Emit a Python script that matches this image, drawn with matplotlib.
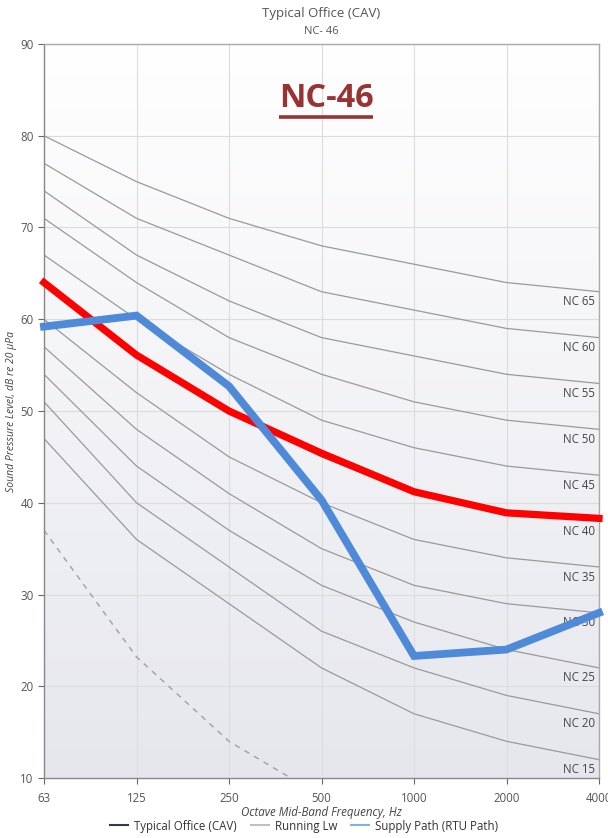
import numpy as np
import matplotlib
matplotlib.use("Agg")
import matplotlib.pyplot as plt
from matplotlib.lines import Line2D

plt.rcParams['font.family'] = ['Open Sans', 'DejaVu Sans']

freqs = ["63", "125", "250", "500", "1000", "2000", "4000"]
nc_levels = [15, 20, 25, 30, 35, 40, 45, 50, 55, 60, 65]
nc_curves = {
    15: [47, 36, 29, 22, 17, 14, 12],
    20: [51, 40, 33, 26, 22, 19, 17],
    25: [54, 44, 37, 31, 27, 24, 22],
    30: [57, 48, 41, 35, 31, 29, 28],
    35: [60, 52, 45, 40, 36, 34, 33],
    40: [64, 56, 50, 45, 41, 39, 38],
    45: [67, 60, 54, 49, 46, 44, 43],
    50: [71, 64, 58, 54, 51, 49, 48],
    55: [74, 67, 62, 58, 56, 54, 53],
    60: [77, 71, 67, 63, 61, 59, 58],
    65: [80, 75, 71, 68, 66, 64, 63],
}
typical_office = [64, 56.1, 50, 45.4, 41.2, 38.9, 38.3]
supply_path = [59.2, 60.4, 52.7, 40.3, 23.3, 24.0, 28.0]
running_lw = [37, 23.2, 14, 8]
y_ticks = [10, 20, 30, 40, 50, 60, 70, 80, 90]

fig = plt.figure(figsize=(6.08, 8.38), dpi=100)
ax = fig.add_axes([44/608, 1-778/838, (599-44)/608, (778-44)/838])

x = np.arange(len(freqs))
ax.set_xlim(0, len(freqs)-1)
ax.set_ylim(10, 90)

# gradient background
grad = np.linspace(0, 1, 256).reshape(-1, 1)
top = np.array([1.0, 1.0, 1.0])
bot = np.array([230, 231, 237]) / 255
img = top[None, None, :] * (1 - grad[:, :, None]) + bot[None, None, :] * grad[:, :, None]
ax.imshow(img, extent=[0, 1, 0, 1], transform=ax.transAxes, aspect='auto', zorder=0)

for xi in x:
    ax.axvline(xi, color='#dcdcdc', lw=0.8, zorder=1)
for yt in y_ticks:
    ax.axhline(yt, color='#dcdcdc', lw=0.8, zorder=1)

for lvl in nc_levels:
    ax.plot(x, nc_curves[lvl], color='#9a9a9a', lw=0.9, zorder=2)
    ax.text(len(freqs)-1-0.04, nc_curves[lvl][-1]-1.1, f"NC {lvl}", ha='right', va='center',
            fontsize=8.3, color='#444444', zorder=3)

ax.plot(x[:len(running_lw)], running_lw, color='#a0a0a0', lw=1.0, ls=(0, (4, 4)), zorder=2)
ax.plot(x, typical_office, color='#ff0000', lw=5.2, zorder=4, clip_on=False, solid_joinstyle='miter')
ax.plot(x, supply_path, color='#4f8ad8', lw=5.6, zorder=5, clip_on=False, solid_joinstyle='miter')

ax.set_xticks(x)
ax.set_xticklabels(freqs)
ax.set_yticks(y_ticks)
ax.tick_params(axis='both', colors='#666666', labelcolor='#555555', labelsize=8.3, length=4, width=0.8)
ax.tick_params(axis='x', pad=6)
for s in ax.spines.values():
    s.set_color('#aaaaaa')
    s.set_linewidth(1.0)
ax.spines['left'].set_color('#888888')
ax.spines['bottom'].set_color('#888888')

ax.set_xlabel("Octave Mid-Band Frequency, Hz", fontsize=8.3, style='italic', color='#444444', labelpad=1)
ax.set_ylabel("Sound Pressure Level, dB re 20 µPa", fontsize=7.5, style='italic', color='#444444', labelpad=2)

fig.text(0.528, 1-14/838, "Typical Office (CAV)", ha='center', va='center', fontsize=9.5, color='#555555')
fig.text(0.528, 1-31/838, "NC- 46", ha='center', va='center', fontsize=8, color='#555555')

ax.text(0.508, 0.926, "NC-46", transform=ax.transAxes, ha='center', va='center',
        fontsize=23.5, fontweight='bold', color='#993333', zorder=6)
ax.plot([0.423, 0.593], [0.9005, 0.9005], transform=ax.transAxes, color='#993333', lw=2.6, zorder=6,
        solid_capstyle='butt')

handles = [Line2D([], [], color='#333a44', lw=1.5),
           Line2D([], [], color='#c0c0c0', lw=1.5),
           Line2D([], [], color='#78b4f0', lw=1.5)]
leg = fig.legend(handles, ["Typical Office (CAV)", "Running Lw", "Supply Path (RTU Path)"],
                 loc='center', bbox_to_anchor=(0.5, 1-826/838), ncol=3, frameon=False,
                 fontsize=8.3, handlelength=1.6, handletextpad=0.5, columnspacing=1.2)
for txt in leg.get_texts():
    txt.set_color('#333333')

fig.savefig("out.png", dpi=100)
